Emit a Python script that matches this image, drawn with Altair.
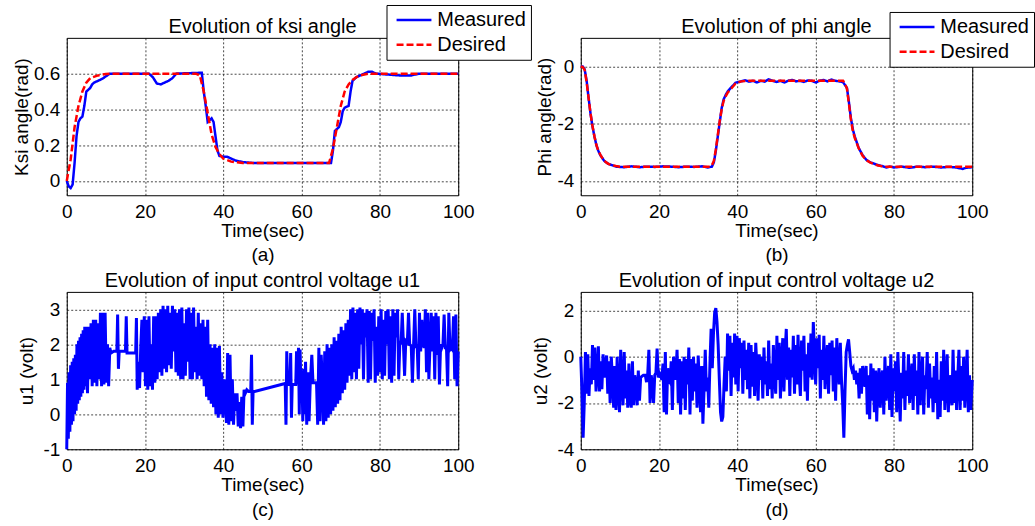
import altair as alt
import pandas as pd

FONT = "Liberation Sans"
SERIES = ["Measured", "Desired"]
SERIES_COLORS = ["#0000ff", "#ff0000"]
SERIES_DASH = [[1, 0], [7, 3]]
X_TICKS = [0, 20, 40, 60, 80, 100]

# ---------------- (a) ksi angle ----------------
ksi_meas = [
    (0, 0.0), (0.5, -0.03), (1, -0.04), (1.5, -0.02), (2, 0.1), (2.5, 0.25), (3, 0.33),
    (3.5, 0.35), (4, 0.36), (4.5, 0.42), (5, 0.5), (6, 0.52), (6.5, 0.54), (7, 0.55),
    (8, 0.56), (9, 0.57), (10, 0.585), (11, 0.6), (21, 0.6), (22, 0.58), (23, 0.545),
    (24, 0.54), (25, 0.55), (26, 0.56), (27, 0.575), (28, 0.6), (34.5, 0.605), (35, 0.5),
    (35.5, 0.42), (36, 0.33), (36.5, 0.34), (37, 0.35), (37.5, 0.33), (38, 0.25),
    (38.5, 0.17), (39, 0.14), (40, 0.135), (41, 0.135), (42, 0.125), (43, 0.115),
    (45, 0.105), (48, 0.1), (67.5, 0.1), (68, 0.17), (68.5, 0.28), (69, 0.29), (69.5, 0.3),
    (70, 0.33), (70.5, 0.39), (71, 0.41), (72, 0.42), (72.5, 0.5), (73, 0.56), (74, 0.58),
    (75, 0.59), (76, 0.6), (77, 0.61), (78, 0.61), (79, 0.6), (82, 0.595), (85, 0.59),
    (88, 0.59), (90, 0.6), (100, 0.6),
]
ksi_des = [
    (0, 0.0), (1, 0.12), (2, 0.3), (3, 0.42), (4, 0.5), (5, 0.55), (6, 0.575), (8, 0.59),
    (10, 0.598), (12, 0.6), (33, 0.6), (34, 0.59), (35, 0.5), (36, 0.38), (37, 0.26),
    (38, 0.19), (39, 0.15), (40, 0.125), (42, 0.108), (45, 0.1), (67, 0.1), (68, 0.18),
    (69, 0.3), (70, 0.42), (71, 0.5), (72, 0.54), (73, 0.565), (74, 0.58), (75, 0.59),
    (77, 0.6), (100, 0.6),
]

# ---------------- (b) phi angle ----------------
phi_meas = [
    (0, 0.0), (0.5, 0.0), (1, -0.1), (1.5, -0.5), (2, -1.1), (2.5, -1.65), (3, -2.1),
    (3.5, -2.45), (4, -2.75), (4.5, -2.95), (5, -3.1), (5.5, -3.2), (6, -3.3), (7, -3.4),
    (8, -3.45), (9, -3.5), (11, -3.52), (13, -3.49), (15, -3.52), (17, -3.5), (19, -3.51),
    (21, -3.49), (23, -3.5), (25, -3.52), (27, -3.5), (29, -3.51), (31, -3.49),
    (32.5, -3.53), (33.5, -3.5), (34, -3.35), (34.5, -2.95), (35, -2.45), (35.5, -1.95),
    (36, -1.45), (36.5, -1.15), (37, -1.0), (37.5, -0.88), (38, -0.8), (38.5, -0.72),
    (39, -0.65), (39.5, -0.57), (40, -0.55), (41, -0.52), (42, -0.48), (43, -0.53),
    (44, -0.5), (45, -0.56), (46, -0.5), (47, -0.53), (48, -0.45), (49, -0.5), (50, -0.54),
    (51, -0.5), (52, -0.56), (53, -0.5), (54, -0.47), (55, -0.52), (56, -0.5), (57, -0.54),
    (58, -0.49), (59, -0.5), (60, -0.56), (61, -0.5), (62, -0.47), (63, -0.52), (64, -0.46),
    (65, -0.5), (66, -0.52), (67, -0.55), (67.5, -0.65), (68, -0.75), (68.5, -1.25),
    (69, -1.8), (69.5, -2.2), (70, -2.45), (70.5, -2.65), (71, -2.85), (72, -3.1),
    (73, -3.27), (74, -3.35), (75, -3.4), (76, -3.45), (77, -3.48), (78, -3.53), (79, -3.5),
    (80, -3.53), (82, -3.5), (84, -3.54), (86, -3.5), (88, -3.52), (90, -3.5), (92, -3.53),
    (94, -3.51), (96, -3.53), (97.5, -3.58), (98.5, -3.54), (100, -3.52),
]
phi_des = [
    (0, 0.0), (0.5, -0.02), (1, -0.12), (1.5, -0.55), (2, -1.1), (2.5, -1.65), (3, -2.08),
    (3.5, -2.45), (4, -2.75), (4.5, -2.95), (5, -3.08), (5.5, -3.2), (6, -3.3), (7, -3.4),
    (8, -3.45), (9, -3.48), (10, -3.5), (33, -3.5), (33.5, -3.45), (34, -3.3), (34.5, -2.9),
    (35, -2.4), (35.5, -1.9), (36, -1.5), (36.5, -1.2), (37, -1.05), (37.5, -0.92),
    (38, -0.84), (38.5, -0.76), (39, -0.68), (39.5, -0.6), (40, -0.56), (41, -0.52),
    (43, -0.5), (67, -0.5), (67.5, -0.6), (68, -0.78), (68.5, -1.3), (69, -1.85),
    (69.5, -2.25), (70, -2.5), (70.5, -2.68), (71, -2.86), (72, -3.12), (73, -3.28),
    (74, -3.36), (75, -3.42), (76, -3.46), (77, -3.49), (78, -3.5), (100, -3.5),
]

# ---------------- (c) u1 ----------------
u1_samples = [
    (0.0, -1.0), (0.2, 0.9), (0.4, -0.7), (0.6, 1.2), (0.8, -0.5), (1.0, 1.4), (1.2, -0.3),
    (1.4, 1.5), (1.6, -0.2), (1.8, 1.6), (2.0, 0.0), (2.2, 1.7), (2.4, 0.1), (2.6, 2.0),
    (2.8, 0.3), (3.0, 2.1), (3.2, 0.4), (3.4, 2.2), (3.6, 0.5), (3.8, 2.3), (4.0, 0.6),
    (4.2, 2.4), (4.4, 0.7), (4.6, 2.5), (4.8, 0.8), (5.0, 2.5),
    (5.3, 0.6), (5.6, 2.5), (5.9, 1.0), (6.2, 2.6), (6.5, 0.8), (6.8, 2.7), (7.1, 0.9),
    (7.4, 2.7), (7.7, 0.8), (8.0, 2.6), (8.3, 1.0), (8.6, 2.9), (8.9, 0.8), (9.2, 2.9),
    (9.5, 0.85), (9.8, 2.9), (10.1, 0.9), (10.4, 2.0), (10.7, 0.8), (11.0, 1.9), (11.3, 1.75),
    (12.0, 1.8), (12.8, 1.8), (13.0, 2.85), (13.2, 1.3), (13.4, 1.8), (15.0, 1.8),
    (15.2, 2.8), (15.4, 1.75), (17.6, 1.75), (17.8, 2.75), (18.0, 0.7),
    (18.3, 1.5), (18.6, 0.75), (18.9, 1.9), (19.2, 2.7), (19.5, 1.2), (19.8, 2.8),
    (20.1, 0.8), (20.4, 2.7), (20.7, 0.7), (21.0, 2.8), (21.3, 0.8), (21.6, 2.0),
    (21.9, 0.7), (22.2, 2.8), (22.5, 0.9), (22.8, 2.8), (23.1, 1.0),
    (23.4, 2.9), (23.7, 1.2), (24.0, 3.0), (24.3, 1.1), (24.6, 3.1), (24.9, 1.3),
    (25.2, 3.0), (25.5, 1.2), (25.8, 3.1), (26.1, 1.4), (26.4, 2.9), (26.7, 1.3),
    (27.0, 3.1), (27.3, 1.8), (27.6, 3.0), (27.9, 1.2), (28.2, 2.9), (28.5, 1.1),
    (28.8, 3.0), (29.1, 1.0), (29.4, 3.05), (29.7, 1.0), (30.0, 2.6), (30.3, 1.1),
    (30.6, 3.0), (30.9, 1.5), (31.2, 3.05), (31.5, 1.0), (31.8, 2.9), (32.1, 1.0),
    (32.4, 3.05), (32.7, 1.2), (33.0, 2.5), (33.3, 1.0), (33.6, 2.9), (33.9, 1.1),
    (34.2, 2.6), (34.5, 1.0), (34.8, 2.7),
    (35.1, 0.8), (35.4, 2.5), (35.7, 0.5), (36.0, 2.7), (36.3, 0.4), (36.6, 2.0),
    (36.9, 0.3), (37.2, 1.9), (37.5, 0.2), (37.8, 2.0), (38.1, 0.0), (38.4, 1.9),
    (38.7, -0.1), (39.0, 1.95), (39.3, 0.0),
    (39.6, 1.2), (39.9, -0.1), (40.2, 1.0), (40.5, 0.5), (40.8, -0.25), (41.1, 1.75),
    (41.4, -0.3), (41.7, 1.7), (42.0, -0.2), (42.3, 1.0), (42.6, -0.3), (42.9, 0.6),
    (43.2, 0.1), (43.5, 0.6), (43.8, -0.35), (44.1, 0.35), (44.4, -0.4), (44.7, 0.5),
    (45.0, -0.35), (45.3, 0.7), (45.6, 0.6), (46.0, 0.7), (46.5, 0.65), (47.0, 0.65),
    (47.2, 1.7), (47.4, -0.3), (47.6, 0.65), (48.0, 0.65),
    (55.8, 0.88),
    (56.0, -0.3), (56.2, 1.8), (56.4, 0.85), (57.0, 0.85), (57.2, 1.75), (57.4, -0.1),
    (57.6, 0.85), (58.5, 0.85), (58.7, 1.8), (58.9, 0.85), (59.2, 1.9), (59.4, 0.0),
    (59.6, 1.85), (59.8, 0.85), (60.1, 0.9), (60.3, -0.2), (60.5, 1.3), (60.7, 0.0),
    (61.0, 1.5), (61.3, -0.3), (61.6, 1.2), (61.9, -0.2), (62.2, 0.9), (62.6, 1.7),
    (62.9, 0.9), (63.8, 0.9), (64.1, -0.3), (64.4, 1.9), (64.7, -0.2), (65.0, 1.7),
    (65.3, 0.9),
    (65.6, -0.3), (65.9, 1.8), (66.2, -0.2), (66.5, 2.0), (66.8, -0.1), (67.1, 1.9),
    (67.4, 0.0), (67.7, 2.0), (68.0, 0.1), (68.3, 2.2), (68.6, 0.2), (68.9, 2.1),
    (69.2, 0.3), (69.5, 2.3), (69.8, 0.4), (70.1, 2.5), (70.4, 0.6), (70.7, 2.4),
    (71.0, 0.7), (71.3, 2.6), (71.6, 0.9), (71.9, 2.7),
    (72.2, 1.1), (72.5, 3.0), (72.8, 1.0), (73.1, 3.05), (73.4, 1.2), (73.7, 2.9),
    (74.0, 1.0), (74.3, 3.0), (74.6, 1.3), (74.9, 3.05), (75.2, 2.0), (75.5, 3.0),
    (75.8, 1.0), (76.1, 2.9), (76.4, 2.2), (76.7, 3.0), (77.0, 0.9), (77.3, 2.95),
    (77.6, 1.0), (77.9, 2.9), (78.2, 2.1), (78.5, 3.0), (78.8, 0.9), (79.1, 2.5),
    (79.4, 1.1), (79.7, 2.8), (80.0, 1.2), (80.3, 3.0), (80.6, 1.0), (80.9, 2.7),
    (81.2, 1.1), (81.5, 2.95), (81.8, 2.0), (82.1, 3.0), (82.4, 1.0), (82.7, 2.8),
    (83.0, 0.9), (83.3, 3.0), (83.6, 1.1), (83.9, 2.9), (84.2, 2.2), (84.5, 3.0),
    (84.8, 1.0), (85.1, 2.1), (85.4, 2.0), (85.7, 2.9), (86.0, 2.0), (86.3, 1.1),
    (86.6, 2.1), (87.0, 2.05), (87.3, 2.9), (87.6, 2.0), (88.0, 1.95), (88.3, 0.9),
    (88.6, 2.0), (88.9, 3.0), (89.2, 1.9), (89.5, 2.0), (89.8, 1.0), (90.1, 2.9),
    (90.4, 1.8), (90.7, 2.7), (91.0, 2.0), (91.3, 1.9), (91.6, 3.0), (91.9, 1.2),
    (92.2, 2.9), (92.5, 1.0), (92.8, 2.0), (93.1, 2.9), (93.4, 1.8), (93.7, 2.8),
    (94.0, 1.0), (94.3, 2.9), (94.6, 1.7), (94.9, 2.8), (95.2, 0.85), (95.5, 2.0),
    (95.8, 1.9), (96.1, 2.0), (96.4, 2.85), (96.7, 1.9), (97.0, 1.9), (97.3, 0.8),
    (97.6, 2.9), (97.9, 1.85), (98.2, 1.9), (98.5, 1.85), (98.8, 2.8), (99.1, 1.0),
    (99.4, 2.85), (99.7, 0.8), (100.0, 1.8),
]

# ---------------- (d) u2 ----------------
u2_samples = [
    (0.0, 0.0), (0.3, -1.5), (0.6, -3.5), (0.9, -2.0), (1.2, 0.2), (1.5, -1.6), (1.8, 0.1),
    (2.1, -1.7), (2.4, -0.5), (2.7, -1.2), (3.0, 0.5), (3.3, -1.0), (3.6, 0.4), (3.9, -1.5),
    (4.2, -0.8), (4.5, 0.45), (4.8, -1.5), (5.1, -0.2), (5.4, -1.4), (5.7, 0.1), (6.0, -0.9),
    (6.3, -0.3), (6.6, 0.05), (6.9, -1.6), (7.2, -0.2), (7.5, -2.0), (7.8, 0.0), (8.1, -1.0),
    (8.4, -2.2), (8.7, -0.4), (9.0, -2.3), (9.3, 0.0), (9.6, -1.5), (9.9, -2.4), (10.2, 0.3),
    (10.5, -1.2), (10.8, -2.1), (11.1, 0.2), (11.4, -1.8), (11.7, -0.6), (12.0, -2.2),
    (12.3, -0.3), (12.6, -1.9), (12.9, -2.2), (13.2, -0.2), (13.5, -2.1), (13.8, -0.8),
    (14.1, -1.2), (14.4, -2.1), (14.7, -0.6), (15.0, -1.9), (15.3, -0.9), (15.6, -0.85),
    (16.0, -0.8), (16.5, -0.8), (16.8, -1.1), (17.1, -0.75), (17.4, 0.3), (17.7, -2.0),
    (18.0, -0.8), (18.3, -1.2), (18.6, -2.0), (18.9, -0.8), (19.2, -0.7), (19.5, 0.35),
    (19.8, -0.9), (20.1, -0.7), (20.4, -0.8), (20.7, -1.0), (21.0, -0.3), (21.3, -2.4),
    (21.6, 0.2), (21.9, -2.5), (22.2, -0.5), (22.5, -1.0), (22.8, -1.1), (23.1, -0.2),
    (23.4, -2.3), (23.7, 0.0), (24.0, -1.0), (24.3, -0.7), (24.6, 0.3), (24.9, -2.0),
    (25.2, -0.1), (25.5, -2.5), (25.8, -0.2), (26.1, -1.8), (26.4, 0.0), (26.7, -2.3),
    (27.0, -0.1), (27.3, -1.2), (27.6, 0.4), (27.9, -2.5), (28.2, -0.1), (28.5, -1.9),
    (28.8, 0.0), (29.1, -1.5), (29.4, -0.3), (29.7, -2.2), (30.0, 0.05), (30.3, -1.2),
    (30.6, -2.4), (30.9, -0.4), (31.2, -2.9), (31.5, -1.4), (31.8, 0.3), (32.1, -1.5),
    (32.4, -0.9), (32.7, -2.2), (33.0, -0.3), (33.3, 1.2), (33.6, -0.5), (33.9, 1.0),
    (34.2, 1.9), (34.5, 2.1), (34.8, 1.5), (35.1, 0.5), (35.4, -1.0), (35.7, -2.4),
    (36.0, -2.8), (36.3, -2.6), (36.6, -1.2), (36.9, 0.0), (37.2, -1.5), (37.5, 1.0),
    (37.8, -0.6), (38.1, 0.9), (38.4, -1.7), (38.7, 0.6), (39.0, -0.9), (39.3, 1.0),
    (39.6, -1.2), (39.9, 0.9), (40.2, -1.5), (40.5, 0.8), (40.8, -0.5), (41.1, 0.6),
    (41.4, -1.6), (41.7, 0.7), (42.0, -1.0), (42.3, 0.3), (42.6, -1.4), (42.9, 0.6),
    (43.2, -1.8), (43.5, 0.5), (43.8, -1.3), (44.1, 0.2), (44.4, -1.7), (44.7, 0.6),
    (45.0, -0.5), (45.3, -1.9), (45.6, 0.1), (45.9, -1.0), (46.2, 0.0), (46.5, -1.8),
    (46.8, 0.4), (47.1, -1.2), (47.4, -0.2), (47.7, -1.7), (48.0, 0.7), (48.3, -1.4),
    (48.6, -0.3), (48.9, -1.8), (49.2, 0.5), (49.5, -0.8), (49.8, -1.6), (50.1, 0.9),
    (50.4, -1.0), (50.7, 0.6), (51.0, -1.8), (51.3, -0.3), (51.6, 0.8), (51.9, -1.5),
    (52.2, 0.2), (52.5, 1.2), (52.8, -1.0), (53.1, 0.4), (53.4, -1.7), (53.7, 0.3),
    (54.0, -0.9), (54.3, 0.9), (54.6, -1.6), (54.9, 0.5), (55.2, -1.2), (55.5, 0.95),
    (55.8, -0.8), (56.1, -1.7), (56.4, 0.7), (56.7, -0.6), (57.0, 0.9), (57.3, -1.5),
    (57.6, 0.1), (57.9, -1.9), (58.2, 0.6), (58.5, -0.9), (58.8, 1.0), (59.1, -1.0),
    (59.4, 1.5), (59.7, 0.2), (60.0, -1.2), (60.3, 0.8), (60.6, -0.5), (60.9, 0.95),
    (61.2, -1.8), (61.5, 0.3), (61.8, -1.0), (62.1, 0.9), (62.4, -1.4), (62.7, -0.3),
    (63.0, 0.5), (63.3, -1.6), (63.6, 0.6), (63.9, -0.8), (64.2, 0.7), (64.5, -1.5),
    (64.8, 0.4), (65.1, -1.9), (65.4, 0.8), (65.7, -0.5), (66.0, -1.2), (66.3, 0.6),
    (66.6, -1.0), (66.9, -2.0), (67.2, -3.5), (67.5, -1.5), (67.8, 0.2), (68.1, 0.5),
    (68.4, 0.75), (68.7, 0.2), (69.0, -0.4), (69.3, -0.6), (69.6, -0.5), (69.9, -1.0),
    (70.2, -0.6), (70.5, -1.2), (70.8, -0.7), (71.1, -1.8), (71.4, -0.5), (71.7, -1.6),
    (72.0, -0.4), (72.3, -0.8), (72.6, -1.3), (72.9, -0.4), (73.2, -2.5), (73.5, -0.8),
    (73.8, -2.7), (74.1, -0.3), (74.4, -1.9), (74.7, -0.5), (75.0, -2.4), (75.3, -0.6),
    (75.6, -2.8), (75.9, -1.0), (76.2, -0.5), (76.5, -2.2), (76.8, -0.9), (77.1, -0.6),
    (77.4, -2.5), (77.7, 0.0), (78.0, -1.9), (78.3, -1.1), (78.6, -0.4), (78.9, -2.3),
    (79.2, 0.1), (79.5, -2.6), (79.8, -0.5), (80.1, -1.5), (80.4, -0.2), (80.7, -2.4),
    (81.0, 0.2), (81.3, -1.3), (81.6, -2.8), (81.9, -0.7), (82.2, -1.8), (82.5, 0.2),
    (82.8, -2.3), (83.1, -0.6), (83.4, -1.7), (83.7, 0.1), (84.0, -2.0), (84.3, -1.0),
    (84.6, -0.3), (84.9, -2.3), (85.2, 0.1), (85.5, -1.7), (85.8, -0.6), (86.1, -2.5),
    (86.4, 0.2), (86.7, -2.1), (87.0, -0.9), (87.3, 0.0), (87.6, -2.5), (87.9, -0.8),
    (88.2, -1.4), (88.5, 0.2), (88.8, -2.2), (89.1, -0.3), (89.4, -1.8), (89.7, -0.9),
    (90.0, -2.4), (90.3, -0.4), (90.6, -2.0), (90.9, 0.2), (91.2, -2.7), (91.5, -1.0),
    (91.8, -2.6), (92.1, -0.2), (92.4, -1.9), (92.7, 0.3), (93.0, -2.3), (93.3, -1.1),
    (93.6, 0.1), (93.9, -2.4), (94.2, -0.8), (94.5, -1.5), (94.8, -2.1), (95.1, 0.3),
    (95.4, -2.0), (95.7, -0.6), (96.0, -2.3), (96.3, -0.9), (96.6, 0.3), (96.9, -2.3),
    (97.2, -0.4), (97.5, -1.9), (97.8, 0.0), (98.1, -2.2), (98.4, -1.0), (98.7, 0.3),
    (99.0, -2.4), (99.3, -0.8), (99.6, -2.3), (100.0, -1.0),
]

TITLES = ["Evolution of ksi angle", "Evolution of phi angle",
          "Evolution of input control voltage u1", "Evolution of input control voltage u2"]
Y_TITLES = ["Ksi angle(rad)", "Phi angle(rad)", "u1 (volt)", "u2 (volt)"]
SUBLABELS = ["(a)", "(b)", "(c)", "(d)"]
Y_DOMAINS = [[-0.08, 0.8], [-4.5, 1.0], [-1, 3.5], [-4, 2.8]]
Y_TICKS = [[0, 0.2, 0.4, 0.6], [-4, -2, 0], [-1, 0, 1, 2, 3], [-4, -2, 0, 2]]

W = 393
H = 158
MINUS_FIX = "replace(datum.label, '\u2212', '-')"


def to_df(samples, series):
    return pd.DataFrame({"t": [p[0] for p in samples], "v": [p[1] for p in samples],
                         "series": series})


def axes(i, ytp):
    xax = alt.Axis(values=X_TICKS, title=["Time(sec)", SUBLABELS[i]], titleLineHeight=25,
                   titlePadding=0, format=".6~g", labelExpr=MINUS_FIX)
    yax = alt.Axis(values=Y_TICKS[i], title=Y_TITLES[i], titlePadding=ytp, format=".6~g",
                   labelExpr=MINUS_FIX)
    return xax, yax


def title_layer(i):
    return alt.Chart(pd.DataFrame({"label": [TITLES[i]]})).mark_text(
        font=FONT, fontSize=20, baseline="alphabetic", align="center", color="black"
    ).encode(text="label:N", x=alt.value(W / 2), y=alt.value(-5))


def angle_panel(i, meas, des, lx, ly, ytp):
    df = pd.concat([to_df(meas, "Measured"), to_df(des, "Desired")], ignore_index=True)
    xax, yax = axes(i, ytp)
    leg = alt.Legend(orient="none", legendX=lx, legendY=ly, title=None,
                     strokeColor="black", fillColor="white", padding=5, rowPadding=5,
                     labelFont=FONT, labelFontSize=20, labelColor="black",
                     symbolType="M-0.7,0H4.3", symbolSize=196, symbolStrokeWidth=2.5,
                     labelOffset=26, cornerRadius=0)
    base = alt.Chart(df).encode(
        x=alt.X("t:Q", scale=alt.Scale(domain=[0, 100], nice=False), axis=xax),
        y=alt.Y("v:Q", scale=alt.Scale(domain=Y_DOMAINS[i], nice=False, zero=False), axis=yax),
        color=alt.Color("series:N", scale=alt.Scale(domain=SERIES, range=SERIES_COLORS),
                        legend=leg),
        strokeDash=alt.StrokeDash("series:N", scale=alt.Scale(domain=SERIES, range=SERIES_DASH),
                                  legend=leg),
    )
    m = base.transform_filter(alt.datum.series == "Measured").mark_line(strokeWidth=2.5)
    d = base.transform_filter(alt.datum.series == "Desired").mark_line(strokeWidth=2.5)
    return alt.layer(m, d, title_layer(i)).properties(width=W, height=H)


def signal_panel(i, samples, ytp):
    df = to_df(samples, "u")
    xax, yax = axes(i, ytp)
    line = alt.Chart(df).mark_line(strokeWidth=3, color="#0000ff").encode(
        x=alt.X("t:Q", scale=alt.Scale(domain=[0, 100], nice=False), axis=xax),
        y=alt.Y("v:Q", scale=alt.Scale(domain=Y_DOMAINS[i], nice=False, zero=False), axis=yax),
    )
    return alt.layer(line, title_layer(i)).properties(width=W, height=H)


pa = angle_panel(0, ksi_meas, ksi_des, 321, -33, 2)
pb = angle_panel(1, phi_meas, phi_des, 310, -26, 2)
pc = signal_panel(2, u1_samples, 6)
pd_ = signal_panel(3, u2_samples, 6)

chart = alt.concat(
    pa, pb, pc, pd_, columns=2, spacing={"row": 97, "column": 123}, bounds="flush"
).resolve_scale(
    color="independent", strokeDash="independent"
).properties(
    padding={"left": 12, "top": 3, "right": 0, "bottom": 0},
    background="white",
).configure_view(
    stroke="black", strokeWidth=1
).configure_axis(
    labelFont=FONT, titleFont=FONT, labelFontSize=19, titleFontSize=19,
    titleFontWeight="normal", labelColor="black", titleColor="black",
    grid=True, gridColor="black", gridDash=[2, 2], gridWidth=0.8, gridOpacity=0.9,
    domain=False, ticks=False, tickSize=0, labelPadding=7, labelFlush=False,
    labelOverlap=False,
)

chart.save("out.html", embed_options={"renderer": "svg", "actions": False})
